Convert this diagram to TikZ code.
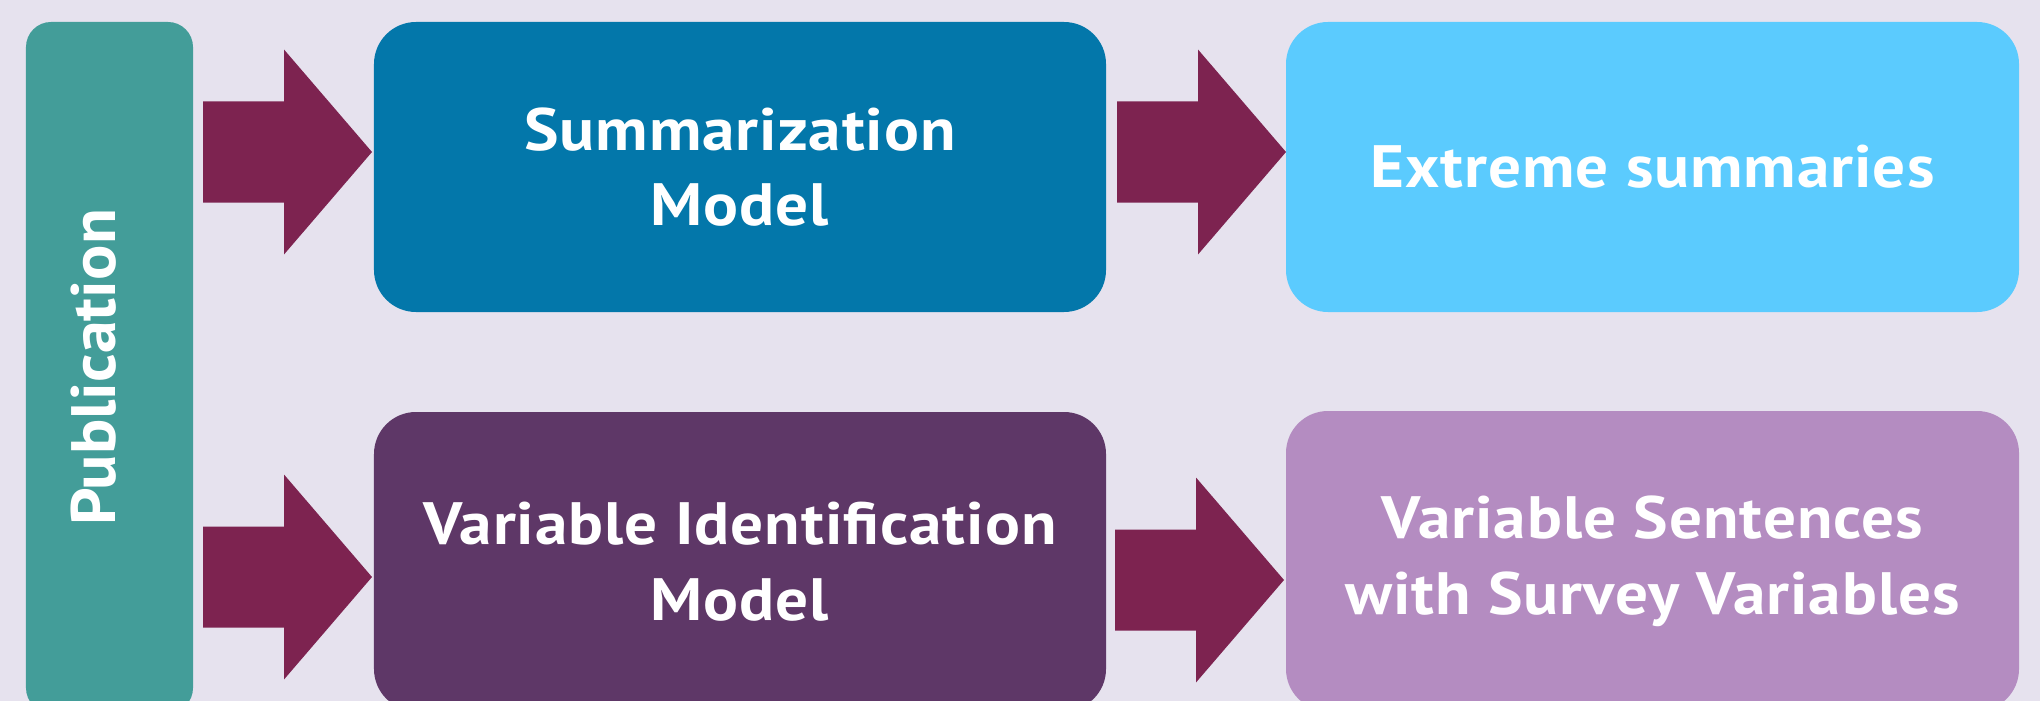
\documentclass[tikz,border=0pt]{standalone}
\usepackage{fontspec}
\setmainfont{PT Sans}
\newfontfamily\boxfont{PT Sans}[FakeStretch=1.09,LetterSpace=1.6]
\newfontfamily\pubfont{PT Sans}[FakeStretch=1.05]
\definecolor{bgc}{HTML}{E6E2EE}
\definecolor{pubc}{HTML}{439D99}
\definecolor{summc}{HTML}{0377AA}
\definecolor{extc}{HTML}{5BCBFE}
\definecolor{varidc}{HTML}{5E3767}
\definecolor{varsentc}{HTML}{B48CC1}
\definecolor{arrc}{HTML}{7D2350}
\tikzset{
  box/.style={rounded corners=42bp, inner sep=0pt, align=center, text=white,
    font=\boxfont\bfseries\fontsize{60}{76}\selectfont},
  pubtext/.style={text=white, inner sep=0pt, font=\pubfont\bfseries\fontsize{63}{70}\selectfont},
  barrow/.pic={\fill[arrc] (0,0) -- (-88,-102.5) -- (-88,-50.5) -- (-169,-50.5)
      -- (-169,50.5) -- (-88,50.5) -- (-88,102.5) -- cycle;}
}
\begin{document}
\begin{tikzpicture}[x=1bp,y=-1bp]
\fill[bgc] (0,0) rectangle (2040,701);
\useasboundingbox (0,0) rectangle (2040,701);
% boxes
\node[box, fill=pubc, rounded corners=25bp, minimum width=167bp, minimum height=691bp] (pub) at (109.5,367.5) {};
\node[pubtext, rotate=90, anchor=base] (publabel) at (115,367.5) {Publication};
\node[box, fill=summc, minimum width=732bp, minimum height=290bp] (summ) at (740,167) {Summarization\\Model};
\node[box, fill=extc, minimum width=733bp, minimum height=290bp] (ext) at (1652.5,167) {Extreme summaries};
\node[box, fill=varidc, minimum width=732bp, minimum height=299bp] (varid) at (740,561.5) {Variable Identification\\Model};
\node[box, fill=varsentc, minimum width=733bp, minimum height=300bp] (varsent) at (1652.5,561) {Variable Sentences\\with Survey Variables};
% block arrows (tip positions)
\coordinate (t1) at (372,152);
\coordinate (t2) at (1286,152);
\coordinate (t3) at (372,577);
\coordinate (t4) at (1284,580);
\pic at (t1) {barrow};
\pic at (t2) {barrow};
\pic at (t3) {barrow};
\pic at (t4) {barrow};
\end{tikzpicture}
\end{document}
